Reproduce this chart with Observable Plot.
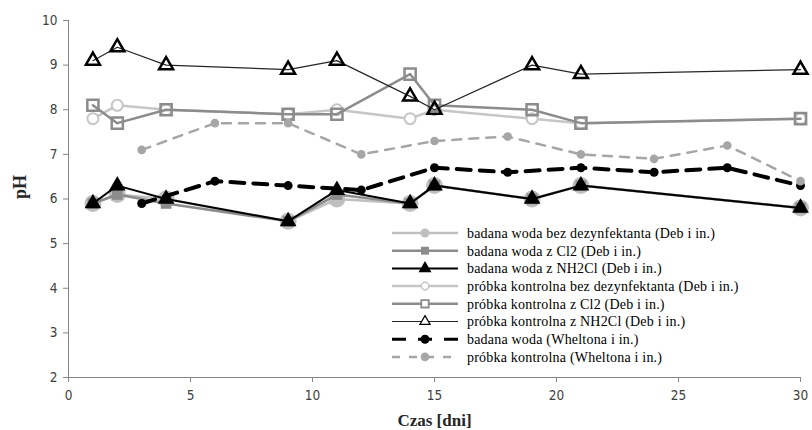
<!DOCTYPE html>
<html>
<head>
<meta charset="utf-8">
<script src="https://cdn.jsdelivr.net/npm/d3@7"></script>
<script src="https://cdn.jsdelivr.net/npm/@observablehq/plot@0.6"></script>
<style>
  html, body { margin: 0; padding: 0; background: #fff; }
  #wrap { position: relative; width: 812px; height: 430px; }
  #legend { position: absolute; left: 0; top: 0; pointer-events: none; }
</style>
</head>
<body>
<div id="wrap"></div>
<script>
// ---- data ----
const daysDeb = [1, 2, 4, 9, 11, 14, 15, 19, 21, 30];
const daysWhelton = [3, 6, 9, 12, 15, 18, 21, 24, 27, 30];

const badanaBez      = [5.9, 6.1, 6.0, 5.5, 6.0, 5.9, 6.3, 6.0, 6.3, 5.8];
const badanaCl2      = [5.9, 6.1, 5.9, 5.5, 6.1, 5.9, 6.3, 6.0, 6.3, 5.8];
const badanaNH2Cl    = [5.9, 6.3, 6.0, 5.5, 6.2, 5.9, 6.3, 6.0, 6.3, 5.8];
const kontrolnaBez   = [7.8, 8.1, 8.0, 7.9, 8.0, 7.8, 8.0, 7.8, 7.7, 7.8];
const kontrolnaCl2   = [8.1, 7.7, 8.0, 7.9, 7.9, 8.8, 8.1, 8.0, 7.7, 7.8];
const kontrolnaNH2Cl = [9.1, 9.4, 9.0, 8.9, 9.1, 8.3, 8.0, 9.0, 8.8, 8.9];
const wheltonBadana    = [5.9, 6.4, 6.3, 6.2, 6.7, 6.6, 6.7, 6.6, 6.7, 6.3];
const wheltonKontrolna = [7.1, 7.7, 7.7, 7.0, 7.3, 7.4, 7.0, 6.9, 7.2, 6.4];

const seriesNames = [
  "badana woda bez dezynfektanta (Deb i in.)",
  "badana woda z Cl2 (Deb i in.)",
  "badana woda z NH2Cl (Deb i in.)",
  "próbka kontrolna bez dezynfektanta (Deb i in.)",
  "próbka kontrolna z Cl2 (Deb i in.)",
  "próbka kontrolna z NH2Cl (Deb i in.)",
  "badana woda (Wheltona i in.)",
  "próbka kontrolna (Wheltona i in.)"
];
const xTicks = [0, 5, 10, 15, 20, 25, 30];
const yTicks = [2, 3, 4, 5, 6, 7, 8, 9, 10];
const xTitle = "Czas [dni]";
const yTitle = "pH";

// ---- styles ----
const serifFont = "'Liberation Serif', 'Times New Roman', 'DejaVu Serif', serif";
const series = [
  {name: seriesNames[0], days: daysDeb, values: badanaBez,
   line: {stroke: "#bfbfbf", strokeWidth: 2.5},
   dot: {symbol: "circle", r: 8.5, fill: "#bfbfbf", stroke: "none"},
   ldot: {symbol: "circle", r: 4.5, fill: "#bfbfbf", stroke: "none"}},
  {name: seriesNames[1], days: daysDeb, values: badanaCl2,
   line: {stroke: "#8c8c8c", strokeWidth: 2.5},
   dot: {symbol: "square", r: 6, fill: "#8c8c8c", stroke: "none"},
   ldot: {symbol: "square", r: 4.5, fill: "#8c8c8c", stroke: "none"}},
  {name: seriesNames[2], days: daysDeb, values: badanaNH2Cl,
   line: {stroke: "#000", strokeWidth: 2},
   dot: {symbol: "triangle", r: 6.2, fill: "#000", stroke: "none"},
   ldot: {symbol: "triangle", r: 4.8, fill: "#000", stroke: "none"}},
  {name: seriesNames[3], days: daysDeb, values: kontrolnaBez,
   line: {stroke: "#c6c6c6", strokeWidth: 2.5},
   dot: {symbol: "circle", r: 5.5, fill: "#fff", stroke: "#c6c6c6", strokeWidth: 2},
   ldot: {symbol: "circle", r: 3.8, fill: "#fff", stroke: "#c6c6c6", strokeWidth: 1.5}},
  {name: seriesNames[4], days: daysDeb, values: kontrolnaCl2,
   line: {stroke: "#8c8c8c", strokeWidth: 2.5},
   dot: {symbol: "square", r: 6.3, fill: "none", stroke: "#8c8c8c", strokeWidth: 2.5},
   ldot: {symbol: "square", r: 4.2, fill: "#fff", stroke: "#8c8c8c", strokeWidth: 1.8}},
  {name: seriesNames[5], days: daysDeb, values: kontrolnaNH2Cl,
   line: {stroke: "#262626", strokeWidth: 1.2},
   dot: {symbol: "triangle", r: 5.2, fill: "none", stroke: "#000", strokeWidth: 2.5},
   ldot: {symbol: "triangle", r: 3.8, fill: "#fff", stroke: "#000", strokeWidth: 1.2}},
  {name: seriesNames[6], days: daysWhelton, values: wheltonBadana,
   line: {stroke: "#000", strokeWidth: 4, strokeDasharray: "14,9"},
   dot: {symbol: "circle", r: 4.5, fill: "#000", stroke: "none"},
   ldot: {symbol: "circle", r: 4.5, fill: "#000", stroke: "none"}},
  {name: seriesNames[7], days: daysWhelton, values: wheltonKontrolna,
   line: {stroke: "#a6a6a6", strokeWidth: 2.5, strokeDasharray: "9,8"},
   dot: {symbol: "circle", r: 4.3, fill: "#a6a6a6", stroke: "none"},
   ldot: {symbol: "circle", r: 4.3, fill: "#a6a6a6", stroke: "none"}}
];

const rows = series.map(s => s.days.map((d, i) => ({day: d, ph: s.values[i], name: s.name})));

const marks = [];
marks.push(Plot.ruleX([0], {stroke: "#868686", strokeWidth: 1}));
marks.push(Plot.ruleY([2], {stroke: "#868686", strokeWidth: 1}));
marks.push(Plot.axisY({ticks: yTicks, tickSize: 5, tickPadding: 6, stroke: "#868686", fill: "#404040",
  label: null, fontSize: 13.5}));
marks.push(Plot.axisX({ticks: xTicks, tickSize: 5, tickPadding: 8, stroke: "#868686", fill: "#404040",
  label: null, fontSize: 13.5}));

series.forEach((s, k) => {
  marks.push(Plot.line(rows[k], {x: "day", y: "ph", ...s.line, strokeLinejoin: "round"}));
  marks.push(Plot.dot(rows[k], {x: "day", y: "ph", ...s.dot}));
});

marks.push(Plot.text([yTitle], {frameAnchor: "left", dx: -48, rotate: -90, fontSize: 18, fontWeight: "bold",
  fill: "#262626", fontFamily: serifFont}));
marks.push(Plot.text([xTitle], {frameAnchor: "bottom", dy: 48, fontSize: 17, fontWeight: "bold",
  fill: "#262626", fontFamily: serifFont}));

const chart = Plot.plot({
  width: 812,
  height: 430,
  marginLeft: 68,
  marginRight: 12,
  marginTop: 20,
  marginBottom: 53,
  x: {domain: [0, 30]},
  y: {domain: [2, 10]},
  style: {fontFamily: "'DejaVu Sans Condensed', 'DejaVu Sans', sans-serif", background: "#fff"},
  marks
});
document.getElementById("wrap").appendChild(chart);

// ---- legend (inside plot area) ----
const lg = d3.select("#wrap").append("svg").attr("id", "legend")
  .attr("width", 812).attr("height", 430);
const symbolMap = {circle: d3.symbolCircle, square: d3.symbolSquare, triangle: d3.symbolTriangle};
series.forEach((s, i) => {
  const y = 233 + i * 17.7;
  const g = lg.append("g");
  g.append("line").attr("x1", 392).attr("x2", 458).attr("y1", y).attr("y2", y)
    .attr("stroke", s.line.stroke).attr("stroke-width", Math.min(s.line.strokeWidth, 3))
    .attr("stroke-dasharray", s.line.strokeDasharray ? (i === 6 ? "14,12" : "8,9") : null);
  const r = s.ldot.r;
  g.append("path").attr("transform", `translate(425,${y})`)
    .attr("d", d3.symbol(symbolMap[s.ldot.symbol], Math.PI * r * r)())
    .attr("fill", s.ldot.fill).attr("stroke", s.ldot.stroke === "none" ? null : s.ldot.stroke)
    .attr("stroke-width", s.ldot.strokeWidth || null);
  g.append("text").attr("x", 467).attr("y", y).attr("dy", "0.35em")
    .style("font-family", serifFont).style("font-size", "14px")
    .style("letter-spacing", "0.2px").attr("fill", "#000")
    .text(s.name);
});
</script>
</body>
</html>
